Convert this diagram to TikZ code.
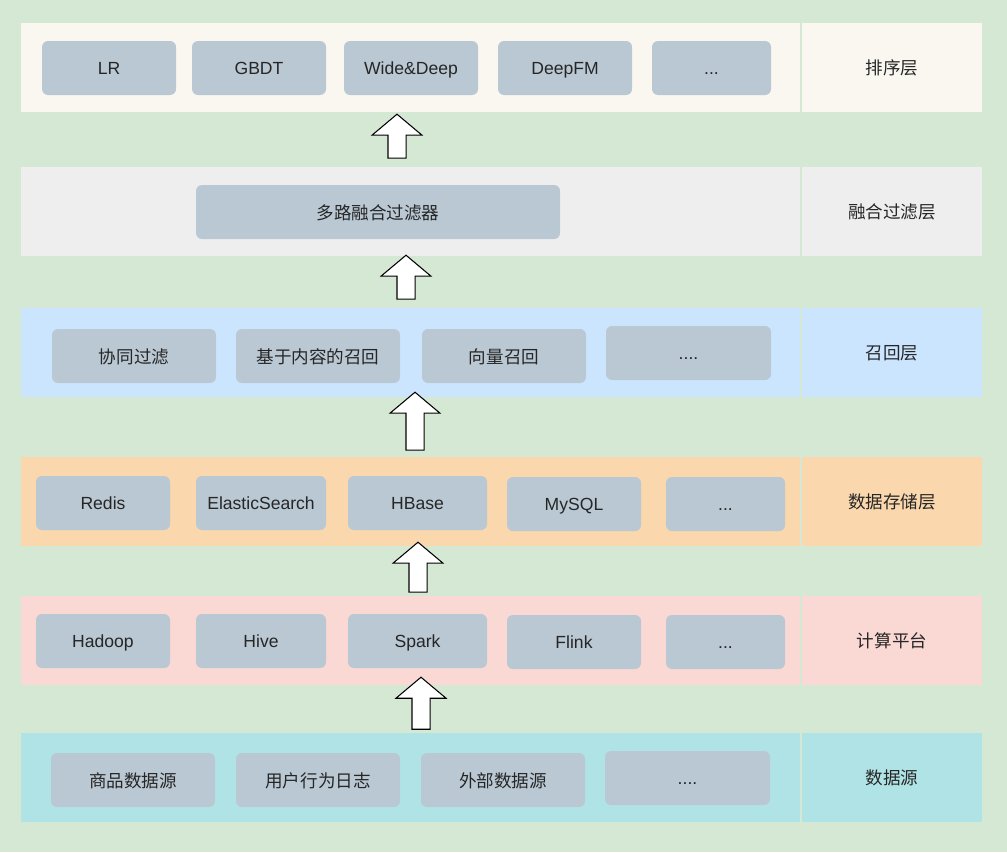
\documentclass[tikz,border=0pt]{standalone}
\usepackage{fontspec}
\setmainfont{Liberation Sans}
\newfontfamily\cjk{Noto Sans CJK SC}
\usetikzlibrary{shapes.arrows}
\definecolor{bggreen}{HTML}{D5E8D4}
\definecolor{sortcream}{HTML}{F9F7EF}
\definecolor{fusegray}{HTML}{EEEEEE}
\definecolor{recallblue}{HTML}{CCE5FF}
\definecolor{storeorange}{HTML}{FAD7AC}
\definecolor{computepink}{HTML}{FAD9D5}
\definecolor{sourcecyan}{HTML}{B0E3E6}
\definecolor{itemgray}{HTML}{BAC8D3}
\newlength\px
\setlength\px{0.02cm}
\tikzset{
  txt/.style={font=\fontsize{10}{12}\selectfont, text=black!85,
              text height=8.6pt, text depth=1pt},
  layer/.style={minimum width=779\px, minimum height=89\px, inner sep=0pt},
  tag/.style={txt, minimum width=180\px, minimum height=89\px, inner sep=0pt,
              font=\cjk\fontsize{10}{12}\selectfont, text height=9pt, text depth=1pt},
  item/.style={txt, fill=itemgray, rounded corners=6\px, minimum width=134\px,
               minimum height=54\px, inner sep=0pt},
  cnitem/.style={item, font=\cjk\fontsize{10}{12}\selectfont,
                 text height=9pt, text depth=1pt},
  upblock/.style={single arrow, draw=black, semithick, fill=white, shape border rotate=90,
                  inner sep=8.5\px, single arrow head extend=16\px, minimum width=49\px,
                  single arrow tip angle=100},
}

\begin{document}
\begin{tikzpicture}[x=0.02cm, y=-0.02cm]
  \fill[bggreen] (0,0) rectangle (1007,852);
  \useasboundingbox (0,0) rectangle (1007,852);

  % layers
  \node[layer, fill=sortcream]   (sortL)    at (410.5,67.5)  {};
  \node[tag,   fill=sortcream]   (sortT)    at (892,67.5)    {排序层};
  \node[layer, fill=fusegray]    (fuseL)    at (410.5,211.5) {};
  \node[tag,   fill=fusegray]    (fuseT)    at (892,211.5)   {融合过滤层};
  \node[layer, fill=recallblue]  (recallL)  at (410.5,352.5) {};
  \node[tag,   fill=recallblue]  (recallT)  at (892,352.5)   {召回层};
  \node[layer, fill=storeorange] (storeL)   at (410.5,501)   {};
  \node[tag,   fill=storeorange] (storeT)   at (892,501)     {数据存储层};
  \node[layer, fill=computepink] (computeL) at (410.5,640)   {};
  \node[tag,   fill=computepink] (computeT) at (892,640)     {计算平台};
  \node[layer, fill=sourcecyan]  (sourceL)  at (410.5,777.5) {};
  \node[tag,   fill=sourcecyan]  (sourceT)  at (892,777.5)   {数据源};

  % ranking models
  \node[item] (lr)       at (109,68)   {LR};
  \node[item] (gbdt)     at (259,68)   {GBDT};
  \node[item] (widedeep) at (411,68)   {Wide\&Deep};
  \node[item] (deepfm)   at (565,68)   {DeepFM};
  \node[item, minimum width=119\px] (sortmore) at (711.5,68) {...};

  % fusion
  \node[cnitem, minimum width=364\px] (fusion) at (378,212) {多路融合过滤器};

  % recall
  \node[cnitem, minimum width=164\px] (cf)      at (134,356)   {协同过滤};
  \node[cnitem, minimum width=164\px] (content) at (318,356)   {基于内容的召回};
  \node[cnitem, minimum width=164\px] (vector)  at (504,356)   {向量召回};
  \node[item,   minimum width=165\px] (recallmore) at (688.5,353) {....};

  % storage
  \node[item] (redis)   at (103,503)   {Redis};
  \node[item, minimum width=130\px] (es)    at (261,503)   {ElasticSearch};
  \node[item, minimum width=139\px] (hbase) at (417.5,503) {HBase};
  \node[item] (mysql)   at (574,504)   {MySQL};
  \node[item, minimum width=119\px] (storemore) at (725.5,504) {...};

  % compute
  \node[item] (hadoop)  at (103,641)   {Hadoop};
  \node[item, minimum width=130\px] (hive)  at (261,641)   {Hive};
  \node[item, minimum width=139\px] (spark) at (417.5,641) {Spark};
  \node[item] (flink)   at (574,642)   {Flink};
  \node[item, minimum width=119\px] (computemore) at (725.5,642) {...};

  % sources
  \node[cnitem, minimum width=164\px] (goods)    at (133,780)   {商品数据源};
  \node[cnitem, minimum width=164\px] (userlog)  at (318,780)   {用户行为日志};
  \node[cnitem, minimum width=164\px] (external) at (503,780)   {外部数据源};
  \node[item,   minimum width=165\px] (sourcemore) at (687.5,778) {....};

  % flow arrows
  \node[upblock, minimum height=44\px] (up1) at (397,140) {};
  \node[upblock, minimum height=44\px] (up2) at (406,281) {};
  \node[upblock, minimum height=58\px] (up3) at (415,425) {};
  \node[upblock, minimum height=50\px] (up4) at (418,571) {};
  \node[upblock, minimum height=52\px] (up5) at (421,707) {};
\end{tikzpicture}
\end{document}
